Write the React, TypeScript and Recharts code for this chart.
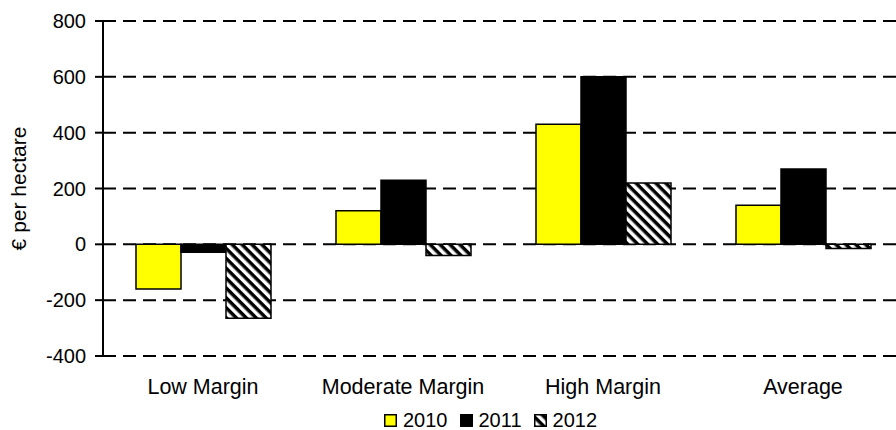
import React from "react"
import { Bar, BarChart, CartesianGrid, Legend, XAxis, YAxis } from "recharts"

const categories = ["Low Margin", "Moderate Margin", "High Margin", "Average"]
const values2010 = [-160, 120, 430, 140]
const values2011 = [-28, 230, 600, 270]
const values2012 = [-265, -40, 220, -15]
const yTicks = [-400, -200, 0, 200, 400, 600, 800]

const data = categories.map((name, i) => ({
  name,
  y2010: values2010[i],
  y2011: values2011[i],
  y2012: values2012[i],
}))

const font = "'Liberation Sans', Arial, sans-serif"

function Hatch({ id }: { id: string }) {
  return (
    <pattern id={id} patternUnits="userSpaceOnUse" width={7} height={7} patternTransform="rotate(45)">
      <rect width={7} height={7} fill="#fff" />
      <rect width={7} height={3.5} fill="#000" />
    </pattern>
  )
}

function LegendBox({ kind }: { kind: string }) {
  let fill = "#ffff00"
  if (kind === "2011") fill = "#000"
  if (kind === "2012") fill = "url(#hatchLegend)"
  return (
    <svg width={13} height={13} style={{ display: "block" }}>
      <defs>
        <Hatch id="hatchLegend" />
      </defs>
      <rect x={0.75} y={0.75} width={11.5} height={11.5} fill={fill} stroke="#000" strokeWidth={1.5} />
    </svg>
  )
}

const renderLegend = () => (
  <div
    style={{
      display: "flex",
      alignItems: "center",
      paddingTop: 14,
      fontFamily: font,
      fontSize: 20,
      lineHeight: "20px",
      color: "#000",
    }}
  >
    {["2010", "2011", "2012"].map((k) => (
      <div key={k} style={{ display: "flex", alignItems: "center", marginRight: 12 }}>
        <LegendBox kind={k} />
        <span style={{ marginLeft: 6 }}>{k}</span>
      </div>
    ))}
  </div>
)

const yLabel = (props: any) => {
  const vb = props.viewBox || { x: 0, y: 21, width: 103, height: 335 }
  const x = vb.x + 26
  const y = vb.y + vb.height / 2
  return (
    <text
      x={x}
      y={y}
      transform={`rotate(-90, ${x}, ${y})`}
      textAnchor="middle"
      fontFamily={font}
      fontSize={21}
      fill="#000"
    >
      € per hectare
    </text>
  )
}

export default function App() {
  return (
    <div
      style={{
        position: "absolute",
        left: 0,
        top: 0,
        width: 896,
        height: 430,
        overflow: "hidden",
        background: "#fff",
      }}
    >
      <BarChart
        width={910}
        height={430}
        data={data}
        margin={{ top: 21, right: 7, left: 0, bottom: 0 }}
        barGap={0}
        barCategoryGap="16.5%"
      >
        <defs>
          <Hatch id="hatchBar" />
        </defs>
        <CartesianGrid vertical={false} stroke="#000" strokeWidth={2} strokeDasharray="13 7" />
        <XAxis
          dataKey="name"
          height={40}
          axisLine={false}
          tickLine={false}
          tickSize={6}
          tickMargin={17}
          tick={{ fill: "#000", fontSize: 21.5, fontFamily: font }}
        />
        <YAxis
          width={103}
          domain={[-400, 800]}
          ticks={yTicks}
          interval={0}
          tickSize={8}
          tickMargin={9}
          axisLine={{ stroke: "#000", strokeWidth: 2 }}
          tickLine={{ stroke: "#000", strokeWidth: 2 }}
          tick={{ fill: "#000", fontSize: 20, fontFamily: font }}
          label={yLabel}
        />
        <Legend
          verticalAlign="bottom"
          content={renderLegend}
          wrapperStyle={{ left: 384, bottom: 0, width: 260, height: 34 }}
        />
        <Bar dataKey="y2010" name="2010" fill="#ffff00" stroke="#000" strokeWidth={1.5} isAnimationActive={false} />
        <Bar dataKey="y2011" name="2011" fill="#000" stroke="#000" strokeWidth={1.5} isAnimationActive={false} />
        <Bar dataKey="y2012" name="2012" fill="url(#hatchBar)" stroke="#000" strokeWidth={1.5} isAnimationActive={false} />
      </BarChart>
    </div>
  )
}
